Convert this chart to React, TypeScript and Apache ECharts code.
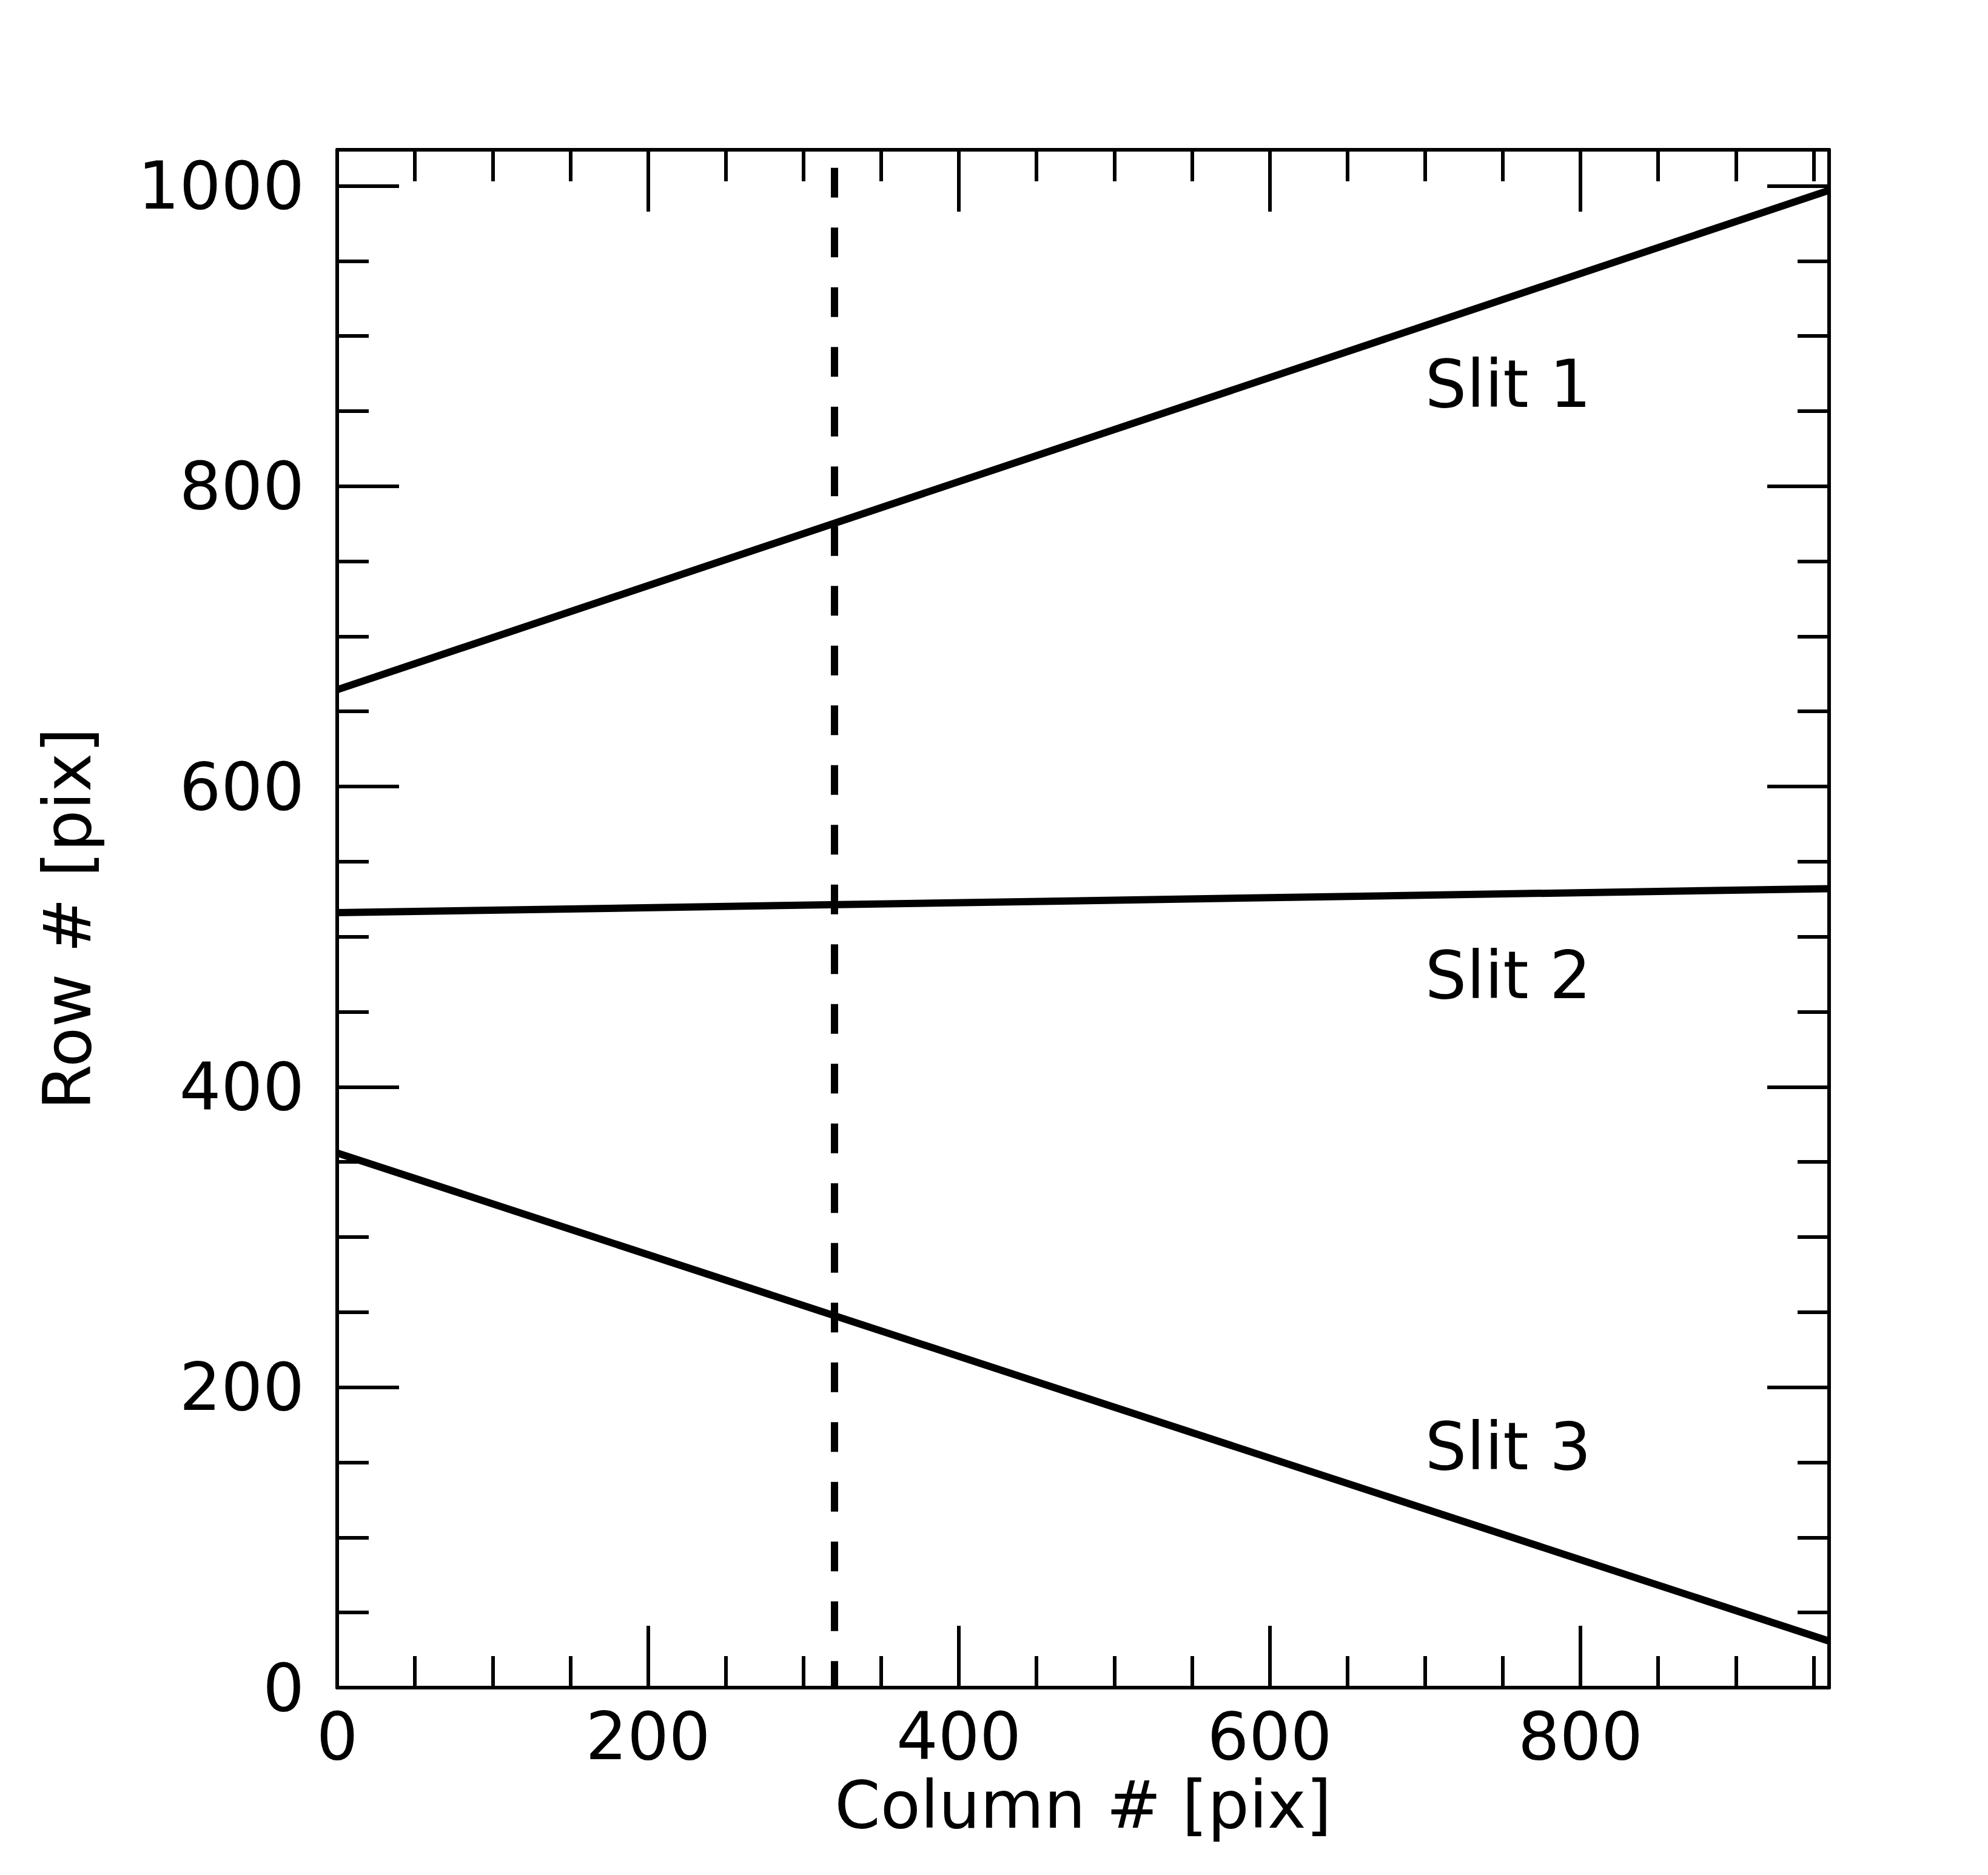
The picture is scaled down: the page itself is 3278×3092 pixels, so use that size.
import React, { useEffect, useRef } from "react";
import * as echarts from "echarts";

// ---- data ----
const slitNames = ["Slit 1", "Slit 2", "Slit 3"];
const slitColumns = [0, 960];
const slit1Rows = [664.5, 997];
const slit2Rows = [516, 532];
const slit3Rows = [356, 31];
const cutColumns = [320, 320];
const cutRows = [1012, 0];
const labelColumn = 700;
const labelRows = [853, 459.5, 145.5];
const xTickValues = [0, 200, 400, 600, 800];
const yTickValues = [0, 200, 400, 600, 800, 1000];
const xMax = 960;
const yMax = 1024;
const xTitle = "Column # [pix]";
const yTitle = "Row # [pix]";

const FONT = "DejaVu Sans";
const FS = 108;

function axis(
  dim: "x" | "y",
  position: string,
  major: boolean,
  showLine: boolean,
  showLabels: boolean,
  extra: any = {}
) {
  const max = dim === "x" ? xMax : yMax;
  const ticks = dim === "x" ? xTickValues : yTickValues;
  return {
    type: "value",
    min: 0,
    max,
    interval: major ? 200 : 50,
    position,
    axisLine: { show: showLine, onZero: false, lineStyle: { color: "#000", width: 6 } },
    axisTick: {
      show: true,
      inside: true,
      length: major ? 102 : 52,
      lineStyle: { color: "#000", width: 6 },
    },
    minorTick: { show: false },
    splitLine: { show: false },
    axisLabel: {
      show: showLabels,
      color: "#000",
      fontFamily: FONT,
      fontSize: FS,
      margin: dim === "x" ? 26 : 54,
      formatter: (v: number) => (ticks.includes(v) ? String(v) : ""),
    },
    ...extra,
  };
}

export default function App() {
  const ref = useRef<HTMLDivElement>(null);
  useEffect(() => {
    if (!ref.current) return;
    const chart = echarts.init(ref.current, null, { renderer: "svg" });
    const toPairs = (xs: number[], ys: number[]) => xs.map((x, i) => [x, ys[i]]);
    const lineSeries = (name: string, ys: number[]) => ({
      name,
      type: "line",
      xAxisIndex: 0,
      yAxisIndex: 0,
      data: toPairs(slitColumns, ys),
      showSymbol: false,
      symbol: "none",
      lineStyle: { color: "#000", width: 12, cap: "butt" },
      silent: true,
      z: 2,
    });
    const option: any = {
      animation: false,
      backgroundColor: "#fff",
      grid: { left: 556, top: 247, width: 2460, height: 2536, outerBoundsMode: "none" },
      xAxis: [
        axis("x", "bottom", true, true, true, {
          name: xTitle,
          nameLocation: "middle",
          nameGap: 139,
          nameTextStyle: { color: "#000", fontFamily: FONT, fontSize: FS },
        }),
        axis("x", "top", true, true, false),
        axis("x", "bottom", false, false, false),
        axis("x", "top", false, false, false),
      ],
      yAxis: [
        axis("y", "left", true, true, true, {
          name: yTitle,
          nameLocation: "middle",
          nameGap: 391,
          nameTextStyle: { color: "#000", fontFamily: FONT, fontSize: FS },
        }),
        axis("y", "right", true, true, false),
        axis("y", "left", false, false, false),
        axis("y", "right", false, false, false),
      ],
      series: [
        lineSeries(slitNames[0], slit1Rows),
        lineSeries(slitNames[1], slit2Rows),
        lineSeries(slitNames[2], slit3Rows),
        {
          type: "line",
          xAxisIndex: 0,
          yAxisIndex: 0,
          data: toPairs(cutColumns, cutRows),
          showSymbol: false,
          symbol: "none",
          lineStyle: { color: "#000", width: 12, type: [49, 49.5], cap: "butt" },
          silent: true,
          z: 2,
        },
        {
          type: "scatter",
          xAxisIndex: 0,
          yAxisIndex: 0,
          symbolSize: 0,
          itemStyle: { color: "#000", opacity: 1 },
          silent: true,
          data: labelRows.map((y, i) => ({ name: slitNames[i], value: [labelColumn, y] })),
          label: {
            show: true,
            position: "right",
            distance: 0,
            offset: [0, -37],
            formatter: (p: any) => p.name,
            color: "#000",
            opacity: 1,
            fontFamily: FONT,
            fontSize: FS,
          },
          z: 3,
        },
      ],
    };
    chart.setOption(option);
    return () => chart.dispose();
  }, []);
  return (
    <div
      ref={ref}
      style={{ position: "fixed", left: 0, top: 0, width: 3278, height: 3092, background: "#fff" }}
    />
  );
}
